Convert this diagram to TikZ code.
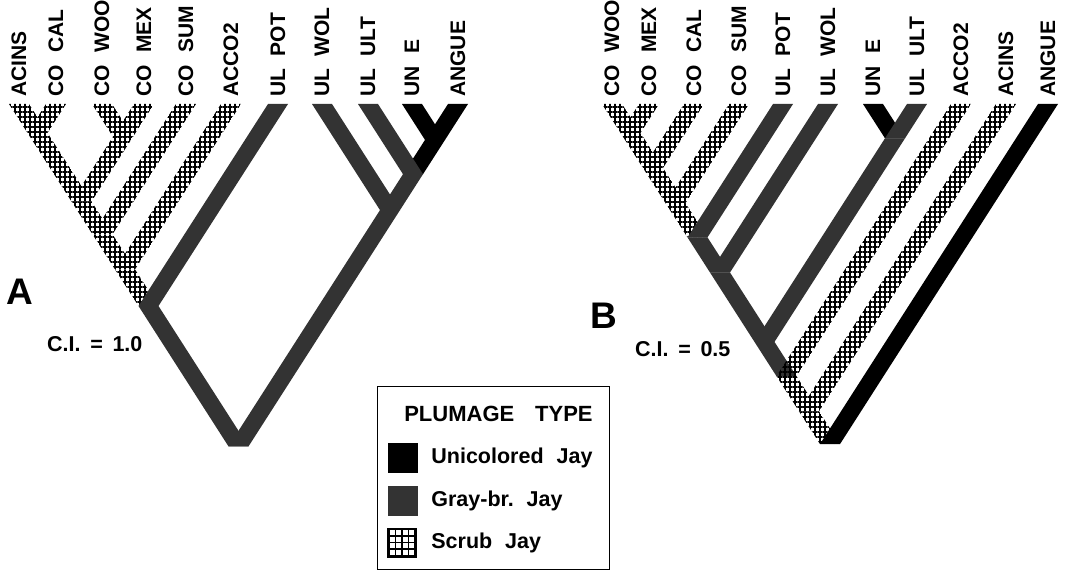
\documentclass[tikz,border=0pt]{standalone}
\usepackage{fontspec}
\setmainfont{Liberation Sans}
\usetikzlibrary{patterns.meta,positioning}

\newcommand{\tipfont}{\bfseries\fontsize{21}{24}\selectfont}
\newcommand{\keyfont}{\bfseries\fontsize{21.5}{24}\selectfont}
\newcommand{\gap}{\hspace{0.6em}}
\newcommand{\bw}{10pt}
% one branch = parallelogram with flat (horizontal) ends
\newcommand{\branch}[3]{\path[#1] ([xshift=-\bw]#2) -- ([xshift=\bw]#2) -- ([xshift=\bw]#3) -- ([xshift=-\bw]#3) -- cycle;}

\tikzset{
  unicol/.style={fill=black},
  graybr/.style={fill=black!80},
  scrub/.style={pattern={Hatch[angle=0,distance=5pt,line width=1.8pt]}},
  tiplabel/.style={rotate=90,anchor=west,inner sep=0pt,font=\tipfont},
  swatch/.style={minimum size=30pt,inner sep=0pt},
}

\begin{document}
\begin{tikzpicture}[x=1pt,y=-1pt]
    \useasboundingbox (0,0) rectangle (1069,572);

    % ---- tree A ----
    \coordinate (a1) at (19,104);
    \coordinate (a2) at (56,104);
    \coordinate (a3) at (102,104);
    \coordinate (a4) at (144,104);
    \coordinate (a5) at (186,104);
    \coordinate (a6) at (231,104);
    \coordinate (a7) at (278,104);
    \coordinate (a8) at (322,104);
    \coordinate (a9) at (368,104);
    \coordinate (a10) at (412,104);
    \coordinate (a11) at (458,104);

    \coordinate (nA1) at (37.5,132.9);
    \coordinate (nA2) at (123,136.8);
    \coordinate (nA3) at (81.5,201.5);
    \coordinate (nA4) at (102.5,234.3);
    \coordinate (nA5) at (125,269.4);
    \coordinate (nA6) at (148.5,306);
    \coordinate (nA7) at (435,139.9);
    \coordinate (nA8) at (413,174.2);
    \coordinate (nA9) at (390,210.1);
    \coordinate (rootA) at (238.5,446.4);

    \branch{scrub}{a1}{nA1}
    \branch{scrub}{a2}{nA1}
    \branch{scrub}{a3}{nA2}
    \branch{scrub}{a4}{nA2}
    \branch{scrub}{nA1}{nA3}
    \branch{scrub}{nA2}{nA3}
    \branch{scrub}{nA3}{nA4}
    \branch{scrub}{a5}{nA4}
    \branch{scrub}{nA4}{nA5}
    \branch{scrub}{a6}{nA5}
    \branch{scrub}{nA5}{nA6}
    \branch{graybr}{a7}{nA6}
    \branch{graybr}{nA6}{rootA}
    \branch{unicol}{a10}{nA7}
    \branch{unicol}{a11}{nA7}
    \branch{unicol}{nA7}{nA8}
    \branch{graybr}{a9}{nA8}
    \branch{graybr}{nA8}{nA9}
    \branch{graybr}{a8}{nA9}
    \branch{graybr}{nA9}{rootA}

    \foreach \t/\lab in {a1/ACINS, a2/CO\gap CAL, a3/CO\gap WOO, a4/CO\gap MEX,
        a5/CO\gap SUM, a6/ACCO2, a7/UL\gap POT, a8/UL\gap WOL, a9/UL\gap ULT,
        a10/UN\gap E, a11/ANGUE}
        \node[tiplabel] (l\t) at ([yshift=7pt]\t) {\lab};

    \node[anchor=base west,inner sep=0pt,font=\bfseries\fontsize{37}{40}\selectfont] (panA) at (6,305) {A};
    \node[anchor=base west,inner sep=0pt,font=\keyfont] (ciA) at (47,352) {C.I.\hspace{0.45em}=\hspace{0.45em}1.0};

    % ---- tree B ----
    \coordinate (b1) at (612,104);
    \coordinate (b2) at (649,104);
    \coordinate (b3) at (694,104);
    \coordinate (b4) at (739,104);
    \coordinate (b5) at (783,104);
    \coordinate (b6) at (828,104);
    \coordinate (b7) at (873,104);
    \coordinate (b8) at (917,104);
    \coordinate (b9) at (961,104);
    \coordinate (b10) at (1006,104);
    \coordinate (b11) at (1048,104);

    \coordinate (nB1) at (630.5,132.9);
    \coordinate (nB2) at (653,168);
    \coordinate (nB3) at (675.5,203.1);
    \coordinate (nB4) at (697.5,237.4);
    \coordinate (nB5) at (720,272.5);
    \coordinate (nB6) at (895,138.3);
    \coordinate (nB7) at (764.5,341.9);
    \coordinate (nB8) at (786.5,376.2);
    \coordinate (nB9) at (809,411.3);
    \coordinate (rootB) at (830,444.1);

    \branch{scrub}{b1}{nB1}
    \branch{scrub}{b2}{nB1}
    \branch{scrub}{nB1}{nB2}
    \branch{scrub}{b3}{nB2}
    \branch{scrub}{nB2}{nB3}
    \branch{scrub}{b4}{nB3}
    \branch{scrub}{nB3}{nB4}
    \branch{graybr}{b5}{nB4}
    \branch{graybr}{nB4}{nB5}
    \branch{graybr}{b6}{nB5}
    \branch{graybr}{nB5}{nB7}
    \branch{unicol}{b7}{nB6}
    \branch{graybr}{b8}{nB6}
    \branch{graybr}{nB6}{nB7}
    \branch{graybr}{nB7}{nB8}
    \branch{scrub}{b9}{nB8}
    \branch{scrub}{nB8}{nB9}
    \branch{scrub}{b10}{nB9}
    \branch{scrub}{nB9}{rootB}
    \branch{unicol}{b11}{rootB}

    \foreach \t/\lab in {b1/CO\gap WOO, b2/CO\gap MEX, b3/CO\gap CAL, b4/CO\gap SUM,
        b5/UL\gap POT, b6/UL\gap WOL, b7/UN\gap E, b8/UL\gap ULT,
        b9/ACCO2, b10/ACINS, b11/ANGUE}
        \node[tiplabel] (l\t) at ([yshift=7pt]\t) {\lab};

    \node[anchor=base west,inner sep=0pt,font=\bfseries\fontsize{37}{40}\selectfont] (panB) at (590,328) {B};
    \node[anchor=base west,inner sep=0pt,font=\keyfont] (ciB) at (635,356) {C.I.\hspace{0.45em}=\hspace{0.45em}0.5};

    % ---- key ----
    \node[draw,line width=1pt,minimum width=232pt,minimum height=183pt,inner sep=0pt] (key) at (493,477.5) {};
    \node[anchor=base,inner sep=0pt,font=\bfseries\fontsize{22}{24}\selectfont] (keytitle) at (498.5,421.5) {PLUMAGE\hspace{0.95em}TYPE};
    \node[swatch,fill=black] (swU) at (403,457.5) {};
    \node[swatch,fill=black!80] (swG) at (403,501) {};
    \node[swatch,fill=black] (swS) at (402,542.5) {};
    \foreach \i in {0,...,3}
        \foreach \j in {0,...,3}
            \fill[white] ([xshift=2.75pt+\i*6.5pt,yshift=-2.75pt-\j*6.5pt]swS.north west) rectangle ++(5pt,-5pt);
    \node[right=13pt of swU,inner sep=0pt,font=\keyfont] (txU) {Unicolored\gap Jay};
    \node[right=13pt of swG,inner sep=0pt,font=\keyfont] (txG) {Gray-br.\gap Jay};
    \node[right=14pt of swS,inner sep=0pt,font=\keyfont] (txS) {Scrub\gap Jay};

\end{tikzpicture}
\end{document}
